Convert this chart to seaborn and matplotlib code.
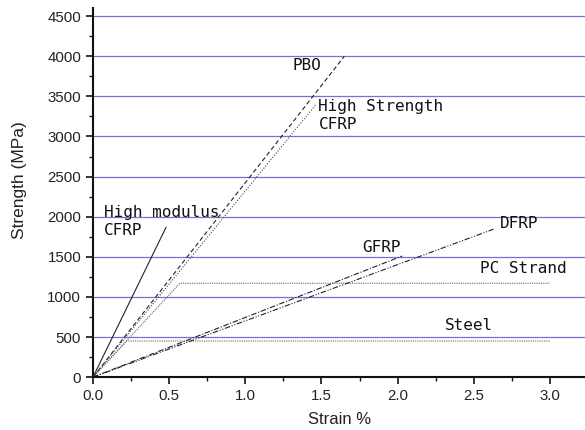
import matplotlib
matplotlib.use("Agg")
import matplotlib.pyplot as plt
import seaborn as sns
from matplotlib.ticker import MultipleLocator

sns.set_theme(style="ticks")
plt.rcParams['font.family'] = ['Liberation Sans', 'DejaVu Sans']

# Data (strain %, strength MPa)
hm_cfrp_x = [0.0, 0.48]
hm_cfrp_y = [0, 1870]
pbo_x = [0.0, 1.65]
pbo_y = [0, 4000]
hs_cfrp_x = [0.0, 1.46]
hs_cfrp_y = [0, 3390]
pc_strand_x = [0.0, 0.57, 3.0]
pc_strand_y = [0, 1170, 1170]
steel_x = [0.0, 0.22, 3.0]
steel_y = [0, 450, 450]
gfrp_x = [0.0, 2.03]
gfrp_y = [0, 1510]
dfrp_x = [0.0, 2.63]
dfrp_y = [0, 1845]

labels = ["High modulus\nCFRP", "PBO", "High Strength\nCFRP", "GFRP", "DFRP", "PC Strand", "Steel"]
label_x = [0.07, 1.31, 1.48, 1.77, 2.67, 2.54, 2.31]
label_y = [1940, 3880, 3260, 1610, 1910, 1360, 640]

fig = plt.figure(figsize=(5.85, 4.30), dpi=100)
ax = fig.add_axes([0.159, 0.123, 0.841, 0.858])

for yv in range(500, 5000, 500):
    ax.axhline(yv, color="#7272d8", lw=0.9, zorder=0)

lc = "#222222"
sns.lineplot(x=hm_cfrp_x, y=hm_cfrp_y, ax=ax, color=lc, lw=0.8, linestyle="-")
sns.lineplot(x=pbo_x, y=pbo_y, ax=ax, color=lc, lw=0.8, linestyle=(0, (4, 2.5)))
sns.lineplot(x=hs_cfrp_x, y=hs_cfrp_y, ax=ax, color="#444444", lw=0.8, linestyle=(0, (1, 1.5)))
sns.lineplot(x=pc_strand_x, y=pc_strand_y, ax=ax, color="#666666", lw=0.8, linestyle=(0, (1, 1)))
sns.lineplot(x=steel_x, y=steel_y, ax=ax, color="#666666", lw=0.8, linestyle=(0, (1, 1)))
sns.lineplot(x=gfrp_x, y=gfrp_y, ax=ax, color=lc, lw=0.8, linestyle=(0, (5, 1.5, 1, 1.5)))
sns.lineplot(x=dfrp_x, y=dfrp_y, ax=ax, color=lc, lw=0.8, linestyle=(0, (5, 1.5, 1, 1.5, 1, 1.5)))

for t, xx, yy in zip(labels, label_x, label_y):
    ax.text(xx, yy, t, fontsize=11.5, family=["DejaVu Sans Mono"], color="#111111",
            ha="left", va="center", linespacing=1.25)

ax.set_xlim(0, 3.23)
ax.set_ylim(0, 4600)
ax.xaxis.set_minor_locator(MultipleLocator(0.25))
ax.yaxis.set_minor_locator(MultipleLocator(250))
ax.set_xticks([0, 0.5, 1.0, 1.5, 2.0, 2.5, 3.0])
ax.set_xticklabels(["0.0", "0.5", "1.0", "1.5", "2.0", "2.5", "3.0"])
ax.set_yticks(list(range(0, 5000, 500)))
ax.tick_params(axis="both", which="major", direction="out", length=5, width=1.2, labelsize=10.8, color="#111111", labelcolor="#222222")
ax.tick_params(axis="both", which="minor", direction="out", length=3, width=1.0, color="#111111")

for s in ["top", "right"]:
    ax.spines[s].set_visible(False)
for s in ["left", "bottom"]:
    ax.spines[s].set_linewidth(1.5)
    ax.spines[s].set_color("#111111")

ax.set_xlabel("Strain %", fontsize=12, color="#222222")
ax.set_ylabel("Strength (MPa)", fontsize=12.5, color="#222222")
ax.xaxis.set_label_coords(0.502, -0.095)
ax.yaxis.set_label_coords(-0.134, 0.534)

fig.savefig("out.png", dpi=100)
